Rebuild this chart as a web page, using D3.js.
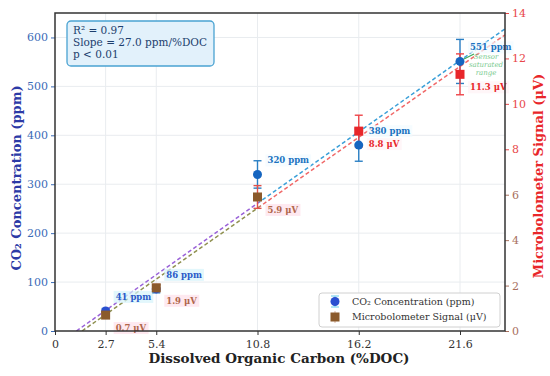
<!DOCTYPE html>
<html><head><meta charset="utf-8">
<script src="https://cdn.jsdelivr.net/npm/d3@7"></script>
<style>body{margin:0;background:#fff}svg{display:block}</style>
</head><body>
<svg id="c" width="550" height="376"></svg>
<script>
const docValues = [2.7, 5.4, 10.8, 16.2, 21.6];
const co2Values = [41, 86, 320, 380, 551];
const co2Errors = [5, 8, 28, 33, 45];
const signalValues = [0.7, 1.9, 5.9, 8.8, 11.3];
const signalErrors = [0.1, 0.15, 0.5, 0.7, 0.9];
const xTicks = [0, 2.7, 5.4, 10.8, 16.2, 21.6];
const leftTicks = [0, 100, 200, 300, 400, 500, 600];
const rightTicks = [0, 2, 4, 6, 8, 10, 12, 14];
const statsLines = ["R² = 0.97", "Slope = 27.0 ppm/%DOC", "p < 0.01"];
const squareColors = ["#8b5a2b", "#8b5a2b", "#8b5a2b", "#e8262a", "#e8262a"];

const svg = d3.select("#c");
const L = 55, R = 505, T = 13, B = 331;
const x = d3.scaleLinear().domain([0, 24]).range([L, R]);
const yL = d3.scaleLinear().domain([0, 650]).range([B, T]);
const yR = d3.scaleLinear().domain([0, 14]).range([B, T]);
const serif = "'DejaVu Serif', serif";

const defs = svg.append("defs");
function hgrad(id, c1, c2, split) {
  const g = defs.append("linearGradient").attr("id", id).attr("gradientUnits", "userSpaceOnUse")
    .attr("x1", L).attr("x2", R).attr("y1", 0).attr("y2", 0);
  g.append("stop").attr("offset", 0).attr("stop-color", c1);
  g.append("stop").attr("offset", split).attr("stop-color", c1);
  g.append("stop").attr("offset", split + 0.01).attr("stop-color", c2);
  g.append("stop").attr("offset", 1).attr("stop-color", c2);
}
hgrad("gBlue", "#9a62d8", "#3a9fd8", 0.45);
hgrad("gRed", "#8f9050", "#f06868", 0.45);
const vg = defs.append("linearGradient").attr("id", "gTitle").attr("gradientUnits", "userSpaceOnUse")
  .attr("x1", 0).attr("x2", 0).attr("y1", 60).attr("y2", 290);
vg.append("stop").attr("offset", 0).attr("stop-color", "#e8262a");
vg.append("stop").attr("offset", 0.55).attr("stop-color", "#d8262a");
vg.append("stop").attr("offset", 0.7).attr("stop-color", "#8a3020");
vg.append("stop").attr("offset", 1).attr("stop-color", "#7a3020");
defs.append("clipPath").attr("id", "clip").append("rect")
  .attr("x", L).attr("y", T).attr("width", R - L).attr("height", B - T);

// grid
const grid = svg.append("g");
grid.selectAll(".gx").data(xTicks.slice(1)).join("line")
  .attr("x1", d => x(d)).attr("x2", d => x(d)).attr("y1", T).attr("y2", B)
  .attr("stroke", "#e9ecef").attr("stroke-width", 1);
grid.selectAll(".gy").data(leftTicks.slice(1)).join("line")
  .attr("x1", L).attr("x2", R).attr("y1", d => yL(d)).attr("y2", d => yL(d))
  .attr("stroke", "#e9ecef").attr("stroke-width", 1);

// axes
const axB = svg.append("g").attr("transform", `translate(0,${B})`)
  .call(d3.axisBottom(x).tickValues(xTicks).tickFormat(d => d === 0 ? "0" : d3.format(".1f")(d)).tickSize(4));
axB.selectAll("text").attr("font-family", serif).attr("font-size", 11).attr("fill", "#333").attr("dy", "0.9em");
axB.selectAll("line").attr("stroke", "#333");
axB.select(".domain").remove();

const axLft = svg.append("g").attr("transform", `translate(${L},0)`)
  .call(d3.axisLeft(yL).tickValues(leftTicks).tickSize(4));
axLft.selectAll("text").attr("font-family", serif).attr("font-size", 11).attr("fill", "#3b6cb7");
axLft.selectAll("line").attr("stroke", "#3b6cb7");
axLft.select(".domain").remove();

const axRt = svg.append("g").attr("transform", `translate(${R},0)`)
  .call(d3.axisRight(yR).tickValues(rightTicks).tickSize(4));
axRt.selectAll("text").attr("font-family", serif).attr("font-size", 11)
  .attr("fill", d => d >= 8 ? "#e8474a" : "#a8705e");
axRt.selectAll("line").attr("stroke", d => d >= 8 ? "#e8474a" : "#a8705e");
axRt.select(".domain").remove();

// fit lines (least squares from data)
function fit(xs, ys) {
  const mx = d3.mean(xs), my = d3.mean(ys);
  const s = d3.sum(xs, (v, i) => (v - mx) * (ys[i] - my)) / d3.sum(xs, v => (v - mx) ** 2);
  return { s, b: my - s * mx };
}
const fB = fit(docValues, co2Values), fR = fit(docValues, signalValues);
const lines = svg.append("g").attr("clip-path", "url(#clip)");
function fitLine(f, y, grad) {
  const x0 = -f.b / f.s;
  lines.append("line").attr("x1", x(x0)).attr("y1", y(0)).attr("x2", x(24)).attr("y2", y(f.s * 24 + f.b))
    .attr("stroke", grad).attr("stroke-width", 1.5).attr("stroke-dasharray", "4,2.5");
}
fitLine(fB, yL, "url(#gBlue)");
fitLine(fR, yR, "url(#gRed)");

// label backgrounds & labels
const lbl = svg.append("g");
function label(tx, ty, text, color, bg) {
  const t = lbl.append("text").attr("x", tx).attr("y", ty).attr("dy", "0.35em")
    .attr("font-family", serif).attr("font-size", 8.5).attr("font-weight", "bold")
    .attr("fill", color).text(text);
  const bb = t.node().getBBox();
  lbl.insert("rect", "text").attr("x", bb.x - 2).attr("y", bb.y - 1)
    .attr("width", bb.width + 4).attr("height", bb.height + 2).attr("fill", bg).attr("opacity", 0.7);
}

// error bars
const eb = svg.append("g");
function errBar(cx, y1, y2, color) {
  eb.append("line").attr("x1", cx).attr("x2", cx).attr("y1", y1).attr("y2", y2).attr("stroke", color).attr("stroke-width", 1.4);
  [y1, y2].forEach(yy => eb.append("line").attr("x1", cx - 4).attr("x2", cx + 4).attr("y1", yy).attr("y2", yy)
    .attr("stroke", color).attr("stroke-width", 1.4));
}
docValues.forEach((d, i) => {
  errBar(x(d), yL(co2Values[i] - co2Errors[i]), yL(co2Values[i] + co2Errors[i]), "#2a7fc4");
});
docValues.forEach((d, i) => {
  errBar(x(d), yR(signalValues[i] - signalErrors[i]), yR(signalValues[i] + signalErrors[i]), i < 3 ? "#e0504a" : "#ee4448");
});

// markers
svg.append("g").selectAll("circle").data(docValues).join("circle")
  .attr("cx", d => x(d)).attr("cy", (d, i) => yL(co2Values[i])).attr("r", 4.5)
  .attr("fill", (d, i) => i < 2 ? "#2a4fd0" : "#1565c0");
svg.append("g").selectAll("rect").data(docValues).join("rect")
  .attr("x", d => x(d) - 4.5).attr("y", (d, i) => yR(signalValues[i]) - 4.5)
  .attr("width", 9).attr("height", 9).attr("fill", (d, i) => squareColors[i]);

docValues.forEach((d, i) => {
  label(x(d) + 10, yL(co2Values[i]) - 14, co2Values[i] + " ppm", i < 2 ? "#2a5ac8" : "#1a72c0", i < 2 ? "#d6f3fb" : "#f2fbff");
  label(x(d) + 10, yR(signalValues[i]) + 13, signalValues[i] + " μV", i < 3 ? "#b0664a" : "#e8262a", i < 3 ? "#fde0ea" : "#fff2f5");
});

// saturated annotation
const ann = svg.append("g");
ann.append("line").attr("x1", 474).attr("y1", 54).attr("x2", 464).attr("y2", 59)
  .attr("stroke", "#3aaa5a").attr("stroke-width", 1.2);
["Sensor", "saturated", "range"].forEach((t, i) => ann.append("text")
  .attr("x", 486).attr("y", 57 + i * 8).attr("dy", "0.35em").attr("text-anchor", "middle")
  .attr("font-family", serif).attr("font-size", 7).attr("font-style", "italic")
  .attr("fill", "#62c27a").attr("opacity", 0.85).text(t));

// frame
svg.append("rect").attr("x", L).attr("y", T).attr("width", R - L).attr("height", B - T)
  .attr("fill", "none").attr("stroke", "#333").attr("stroke-width", 1.5);

// stats box
const sb = svg.append("g");
sb.append("rect").attr("x", 67).attr("y", 21).attr("width", 147).attr("height", 45).attr("rx", 4)
  .attr("fill", "#e2f1fb").attr("stroke", "#4aa3d2").attr("stroke-width", 1.3);
statsLines.forEach((t, i) => sb.append("text").attr("x", 73).attr("y", 30 + i * 12).attr("dy", "0.35em")
  .attr("font-family", serif).attr("font-size", 10.5).attr("fill", "#1d3f6e").text(t));

// legend
const lg = svg.append("g");
lg.append("rect").attr("x", 319).attr("y", 293).attr("width", 181).attr("height", 34).attr("rx", 3)
  .attr("fill", "#fff").attr("fill-opacity", 0.9).attr("stroke", "#d0d0d0");
lg.append("line").attr("x1", 335).attr("x2", 335).attr("y1", 296).attr("y2", 307).attr("stroke", "#7fd4ee").attr("stroke-width", 1.2);
[296, 307].forEach(yy => lg.append("line").attr("x1", 331).attr("x2", 339).attr("y1", yy).attr("y2", yy).attr("stroke", "#7fd4ee").attr("stroke-width", 1.2));
lg.append("circle").attr("cx", 335).attr("cy", 301.5).attr("r", 4.5).attr("fill", "#2a4fd0");
lg.append("line").attr("x1", 335).attr("x2", 335).attr("y1", 311).attr("y2", 323).attr("stroke", "#e0c0b0").attr("stroke-width", 1.2);
lg.append("rect").attr("x", 330.5).attr("y", 312.5).attr("width", 9).attr("height", 9).attr("fill", "#8b5a2b");
[["CO₂ Concentration (ppm)", 301.5], ["Microbolometer Signal (μV)", 316.5]].forEach(([t, yy]) =>
  lg.append("text").attr("x", 352).attr("y", yy).attr("dy", "0.35em").attr("font-family", serif)
    .attr("font-size", 9.5).attr("fill", "#333").text(t));

// axis titles
svg.append("text").attr("x", 279).attr("y", 358).attr("dy", "0.35em").attr("text-anchor", "middle")
  .attr("font-family", serif).attr("font-size", 13.5).attr("font-weight", "bold").attr("fill", "#222")
  .text("Dissolved Organic Carbon (%DOC)");
svg.append("text").attr("transform", "translate(16,178) rotate(-90)").attr("dy", "0.35em").attr("text-anchor", "middle")
  .attr("font-family", serif).attr("font-size", 13).attr("font-weight", "bold").attr("fill", "#2c3aa6")
  .text("CO₂ Concentration (ppm)");
svg.append("text").attr("transform", "translate(538,176) rotate(-90)").attr("dy", "0.35em").attr("text-anchor", "middle")
  .attr("font-family", serif).attr("font-size", 13).attr("font-weight", "bold").attr("fill", "url(#gTitle)")
  .text("Microbolometer Signal (μV)");
</script>
</body></html>
